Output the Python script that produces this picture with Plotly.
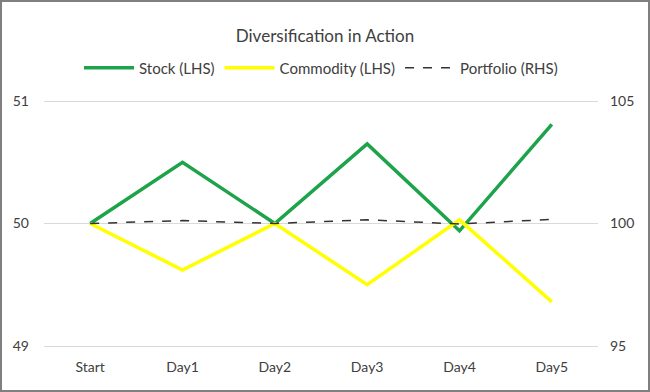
import plotly.graph_objects as go

categories = ["Start", "Day1", "Day2", "Day3", "Day4", "Day5"]
stock = [50.0, 50.5, 50.0, 50.65, 49.94, 50.81]
commodity = [50.0, 49.62, 50.0, 49.5, 50.03, 49.36]
portfolio = [100.0, 100.12, 100.0, 100.15, 99.98, 100.17]

left_ticks = [49, 50, 51]
right_ticks = [95, 100, 105]

font_family = "Lato, Open Sans, sans-serif"
text_color = "#404040"

# plot area: 554 x 249 px, left axis 122.5 px per unit
L, R, T, B = 44, 52, 99, 44
PW, PH = 650 - L - R, 392 - T - B
pad = (PH / 122.5 - 2) / 2

fig = go.Figure()
fig.add_trace(go.Scatter(x=categories, y=stock, mode="lines", name="Stock (LHS)",
                         line=dict(color="#1DA34A", width=3.5)))
fig.add_trace(go.Scatter(x=categories, y=commodity, mode="lines", name="Commodity (LHS)",
                         line=dict(color="#FFFF00", width=3.5)))
fig.add_trace(go.Scatter(x=categories, y=portfolio, mode="lines", name="Portfolio (RHS)",
                         yaxis="y2", line=dict(color="#333333", width=1.5, dash="dash")))

fig.update_layout(
    width=650, height=392,
    margin=dict(l=L, r=R, t=T, b=B, autoexpand=False),
    paper_bgcolor="white", plot_bgcolor="white",
    font=dict(family=font_family, size=14, color=text_color),
    title=dict(text="Diversification in Action", x=0.5, xanchor="center",
               y=1 - 36 / 392, yanchor="middle",
               font=dict(family=font_family, size=17, color=text_color)),
    showlegend=True,
    legend=dict(orientation="h", x=0.5, xanchor="center", y=1 + (T - 68) / PH, yanchor="middle",
                font=dict(size=15, color=text_color), itemwidth=50, tracegroupgap=0),
    xaxis=dict(type="category", range=[-0.5, 5.5], showgrid=False, zeroline=False,
               showline=False, ticks="", ticklabelstandoff=9,
               tickfont=dict(size=14, color=text_color)),
    yaxis=dict(range=[49 - pad, 51 + pad], tickvals=left_ticks, showgrid=True, gridcolor="#D9D9D9",
               gridwidth=1, zeroline=False, showline=False, ticks="", ticklabelstandoff=14,
               tickfont=dict(size=14, color=text_color)),
    yaxis2=dict(range=[95 - 5 * pad, 105 + 5 * pad], tickvals=right_ticks, overlaying="y", side="right",
                showgrid=False, zeroline=False, showline=False, ticks="", ticklabelstandoff=11,
                tickfont=dict(size=14, color=text_color)),
    shapes=[dict(type="rect", xref="paper", yref="paper",
                 x0=-(L - 1) / PW, x1=1 + (R - 1) / PW, y0=-(B - 1) / PH, y1=1 + (T - 1) / PH,
                 line=dict(color="#7F7F7F", width=2), fillcolor="rgba(0,0,0,0)", layer="below")],
)

fig.write_html("out.html", config={"displayModeBar": False},
               post_script="document.body.style.margin='0';")
